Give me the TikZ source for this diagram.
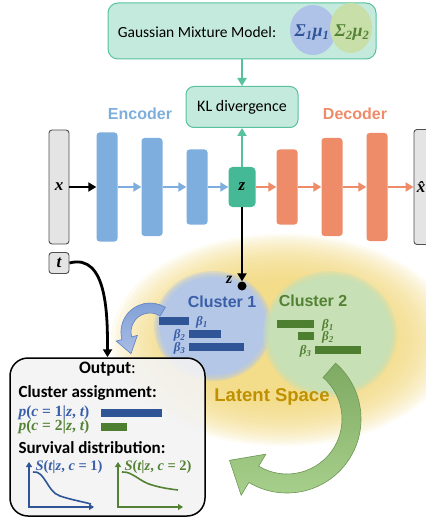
\documentclass[tikz,border=0pt]{standalone}
\usepackage{fontspec}
\setmainfont{Carlito}
\newfontfamily\arialfont{Liberation Sans}
\newfontfamily\symfont{Liberation Serif}
\usetikzlibrary{positioning,arrows.meta,calc}

\newcommand\mv[1]{{\itshape #1}}
\newcommand\ix[1]{\textsubscript{#1}}

\definecolor{mint}{HTML}{C4EADD}
\definecolor{mintline}{HTML}{58C29C}
\definecolor{zgreen}{HTML}{45B995}
\definecolor{encblue}{HTML}{7EAEDD}
\definecolor{decorange}{HTML}{EE8B69}
\definecolor{iofill}{HTML}{E4E4E4}
\definecolor{ioline}{HTML}{505050}
\definecolor{cblue}{HTML}{3A5FA8}
\definecolor{cbar}{HTML}{2F5597}
\definecolor{cgreen}{HTML}{548235}
\definecolor{gbar}{HTML}{4E7F30}
\definecolor{blobblue}{HTML}{B4C7E7}
\definecolor{blobgreen}{HTML}{C8E0B6}
\definecolor{glowc}{HTML}{F1D77A}
\definecolor{latentc}{HTML}{BF9000}
\definecolor{outfill}{HTML}{F3F3F3}
\definecolor{gmmblue}{HTML}{AFC2E8}
\definecolor{gmmgreen}{HTML}{C8DFAA}
\definecolor{garrowdark}{HTML}{7FAA62}
\definecolor{garrowlight}{HTML}{A9D18E}
\definecolor{garrowline}{HTML}{6B9652}
\definecolor{barrowlight}{HTML}{A9BDE6}
\definecolor{barrowdark}{HTML}{7F9FD6}
\definecolor{barrowline}{HTML}{5F80C4}

\begin{document}
\begin{tikzpicture}[x=1pt,y=-1pt,node distance=45pt,on grid,
    block/.style={rounded corners=3pt,minimum width=21pt,inner sep=0pt},
    enc/.style={block,fill=encblue},
    dec/.style={block,fill=decorange},
    io/.style={block,draw=ioline,fill=iofill,line width=0.9pt,minimum width=20pt,font=\symfont\bfseries\itshape\fontsize{17}{17}\selectfont},
    greenbox/.style={draw=mintline,fill=mint,line width=1pt,rounded corners=8pt,inner sep=0pt},
    flow/.style={line width=2.4pt,-{Triangle[length=8pt,width=9pt]}},
    blkflow/.style={flow,line width=2.8pt,black},
    sym/.style={font=\symfont\bfseries\fontsize{#1}{#1}\selectfont},
    beta/.style={sym=13},
    axis/.style={line width=1.6pt,{Triangle[length=5pt,width=6pt]}-{Triangle[length=5pt,width=6pt]}}]
    \useasboundingbox (0,0) rectangle (425,521);

    % latent space
    \foreach \i in {0,...,19}
        \fill[glowc,opacity=0.1] (283,340) ellipse [x radius=172-4*\i, y radius=106-2.6*\i];
    \fill[blobblue] (213,326) ellipse [x radius=53, y radius=49];
    \foreach \d in {0,1.5,...,4.5}
        \fill[blobblue,opacity=0.35] (213,326) ellipse [x radius=59-\d, y radius=55-\d];
    \fill[blobgreen] (330,334) ellipse [x radius=61, y radius=57];
    \foreach \d in {0,1.5,...,4.5}
        \fill[blobgreen,opacity=0.35] (330,334) ellipse [x radius=67-\d, y radius=63-\d];

    % encoder / decoder
    \node[io,minimum height=114pt] (x) at (59,187) {x};
    \node[enc,minimum height=109pt] (e1) [right=48pt of x] {};
    \node[enc,minimum height=98pt]  (e2) [right=of e1] {};
    \node[enc,minimum height=75pt]  (e3) [right=of e2] {};
    \node[block,fill=zgreen,minimum width=27pt,minimum height=40pt,rounded corners=4pt,sym=17] (z) [right=of e3] {\mv{z}};
    \node[dec,minimum height=75pt]  (d1) [right=of z] {};
    \node[dec,minimum height=98pt]  (d2) [right=of d1] {};
    \node[dec,minimum height=108pt] (d3) [right=of d2] {};
    \node[io,minimum height=115pt] (xhat) [right=47pt of d3] {\hspace*{-6pt}\^x};

    \node[text=encblue,font=\arialfont\bfseries\fontsize{16}{16}\selectfont] (enclabel) at (140,114) {Encoder};
    \node[text=decorange,font=\arialfont\bfseries\fontsize{16}{16}\selectfont] (declabel) at (355,114) {Decoder};

    \node[greenbox,minimum width=112pt,minimum height=41pt,font=\fontsize{16}{16}\selectfont] (kl) [above=80pt of z] {KL divergence};
    \node[greenbox,rounded corners=10pt,minimum width=268pt,minimum height=56pt] (gmm) at (242,31) {};
    \fill[gmmblue] (313,30) ellipse [x radius=23, y radius=25];
    \fill[gmmgreen] (351,28) ellipse [x radius=21, y radius=25];
    \node[font=\fontsize{15.5}{16}\selectfont] (gmmtext) at (197,32) {Gaussian Mixture Model:};
    \node[text=cbar,sym=18] (mix1) at (312,33) {\mv{Σ\ix{1}μ\ix{1}}};
    \node[text=cgreen,sym=18] (mix2) at (352,33) {\mv{Σ\ix{2}μ\ix{2}}};

    \draw[blkflow] (x) -- (e1);
    \foreach \a/\b in {e1/e2,e2/e3,e3/z}
        \draw[flow,encblue] (\a) -- (\b);
    \foreach \a/\b in {z/d1,d1/d2,d2/d3,d3/xhat}
        \draw[flow,decorange] (\a) -- (\b);
    \draw[flow,mintline] (gmm) -- (kl);
    \draw[flow,mintline] (z) -- (kl);

    % clusters
    \node[text=cblue,font=\arialfont\bfseries\fontsize{16}{16}\selectfont] (c1) at (222,302) {Cluster 1};
    \node[text=cgreen,font=\arialfont\bfseries\fontsize{16}{16}\selectfont] (c2) at (313,301) {Cluster 2};
    \fill[cbar] (159,317) rectangle (189,325);
    \fill[cbar] (189,330) rectangle (221,338);
    \fill[cbar] (189,343) rectangle (244,351);
    \node[beta,text=cblue] (b11) at (202,322) {\mv{β\ix{1}}};
    \node[beta,text=cblue,anchor=east] (b12) at (189,335) {\mv{β\ix{2}}};
    \node[beta,text=cblue,anchor=east] (b13) at (189,348) {\mv{β\ix{3}}};
    \fill[gbar] (277,320) rectangle (314,328);
    \fill[gbar] (298,332) rectangle (314,340);
    \fill[gbar] (315,346) rectangle (361,354);
    \node[beta,text=cgreen] (b21) at (328,325) {\mv{β\ix{1}}};
    \node[beta,text=cgreen] (b22) at (328,337) {\mv{β\ix{2}}};
    \node[beta,text=cgreen,anchor=east] (b23) at (315,351) {\mv{β\ix{3}}};
    \node[text=latentc,font=\arialfont\bfseries\fontsize{18.5}{18.5}\selectfont] (latent) at (272,397) {Latent Space};

    % curved arrows
    \coordinate (bc) at (150,332);
    \shadedraw[draw=barrowline,line width=0.6pt,top color=barrowdark,bottom color=barrowlight]
        (bc) ++(-58:29) arc[start angle=-58,end angle=-195,radius=29]
        -- ($(bc)+(-195:35)$) -- ($(bc)+(-195:24)+(-285:16)$) -- ($(bc)+(-195:13)$)
        -- ($(bc)+(-195:19)$) arc[start angle=-195,end angle=-58,radius=19] -- cycle;
    \coordinate (gc) at (287,419);
    \shadedraw[draw=garrowline,line width=0.6pt,top color=garrowdark,bottom color=garrowlight]
        (gc) ++(-49:74) arc[start angle=-49,end angle=121,radius=74]
        -- ($(gc)+(121:89)$) -- ($(gc)+(121:65)+(211:28)$) -- ($(gc)+(121:41)$)
        -- ($(gc)+(121:55)$) arc[start angle=121,end angle=-49,radius=55] -- cycle;

    % output
    \node[draw=black,fill=outfill,fill opacity=0.88,line width=1.5pt,rounded corners=18pt,minimum width=195pt,minimum height=158pt] (out) at (107.5,437) {};
    \node[font=\bfseries\fontsize{17.5}{18}\selectfont] (outtitle) at (107.5,369) {Output\mdseries:};
    \node[anchor=west,font=\bfseries\fontsize{17}{17}\selectfont] (assign) at (15,393) {Cluster assignment:};
    \node[anchor=west,text=cblue,sym=15.5] (p1) at (15,413) {\mv{p}(\mv{c} = 1|\mv{z}, \mv{t})};
    \fill[cbar] (101,409) rectangle (162,417);
    \node[anchor=west,text=cgreen,sym=15.5] (p2) at (15,427) {\mv{p}(\mv{c} = 2|\mv{z}, \mv{t})};
    \fill[gbar] (101,423) rectangle (127,431);
    \node[anchor=west,font=\bfseries\fontsize{17}{17}\selectfont] (surv) at (15,448) {Survival distribution:};
    \draw[axis,cbar] (29,462) -- (29,507) -- (94,507);
    \draw[line width=1.6pt,cbar] (33,472) .. controls (45,470) and (47,492) .. (60,496) .. controls (72,500) and (84,502) .. (91,504);
    \node[anchor=west,text=cblue,sym=14.5] (s1) at (32,467) {\mv{S}(\mv{t}|\mv{z}, \mv{c} = 1)};
    \draw[axis,cgreen] (118,462) -- (118,507) -- (183,507);
    \draw[line width=1.6pt,cgreen] (122,472) .. controls (132,471) and (140,482) .. (152,485) .. controls (162,488) and (170,489) .. (178,490);
    \node[anchor=west,text=cgreen,sym=14.5] (s2) at (121,467) {\mv{S}(\mv{t}|\mv{z}, \mv{c} = 2)};

    % z sample and time input
    \node[circle,fill=black,inner sep=0pt,minimum size=9pt] (zdot) at (242,286) {};
    \node[anchor=east,sym=16] (zlab) at (236,280) {\mv{z}};
    \draw[blkflow] (z) -- (zdot);
    \node[io,minimum height=21pt] (t) at (59,263) {t};
    \draw[blkflow] (t.east) to[out=15,in=90] (out.north);
\end{tikzpicture}
\end{document}
